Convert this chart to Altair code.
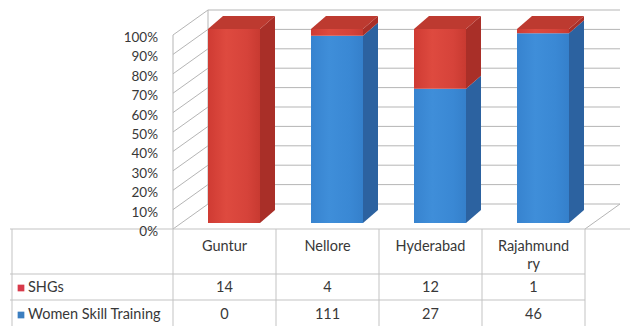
import altair as alt
import pandas as pd

# ---------------- data ----------------
categories = ["Guntur", "Nellore", "Hyderabad", "Rajahmundry"]
series_names = ["SHGs", "Women Skill Training"]
shgs = [14, 4, 12, 1]
women_skill = [0, 111, 27, 46]
y_ticks = [0, 10, 20, 30, 40, 50, 60, 70, 80, 90, 100]

# ---------------- layout constants (pixels) ----------------
W, H = 636, 326
ORIGIN_X, ORIGIN_Y = 173, 229      # front-left floor corner
SLOT = 103                          # px per category column
PPP = 1.94                          # px per percent on the front plane


def ux(px):
    return (px - ORIGIN_X) / SLOT


def vy(py):
    return (ORIGIN_Y - py) / PPP


def dxu(d):
    return d / SLOT


def dyv(d):
    return d / PPP


WX, WY = dxu(35), dyv(25)          # wall depth
BAR_L, BAR_R = dxu(35), dxu(87)    # bar front face inside a slot
LIFT = dyv(6)                      # bar base above front floor edge
DX, DY = dxu(15), dyv(13)          # bar depth

XS = alt.Scale(domain=[ux(0), ux(W)], nice=False, zero=False)
YS = alt.Scale(domain=[vy(H), vy(0)], nice=False, zero=False)

RED_SIDE, RED_TOP = "#a92f28", "#bd3a30"
BLUE_SIDE, BLUE_TOP = "#2c62a0", "#3170b4"
FONT = "Lato"
TXT = "#383838"
TFS = 14.5

# ---------------- structural lines ----------------
grid_rows = []
for p in y_ticks:
    grid_rows.append(dict(x=0, y=p, x2=WX, y2=p + WY))                 # left wall
    grid_rows.append(dict(x=WX, y=p + WY, x2=len(categories) + WX, y2=p + WY))  # back wall
grid_rows.append(dict(x=0, y=0, x2=0, y2=100))
grid_rows.append(dict(x=WX, y=WY, x2=WX, y2=100 + WY))
grid_rows.append(dict(x=len(categories), y=0, x2=len(categories) + WX, y2=WY))
grid_df = pd.DataFrame(grid_rows)

table_rows = []
table_rows.append(dict(x=ux(10), y=0, x2=ux(630), y2=0))
for py in (274, 300):
    table_rows.append(dict(x=ux(10), y=vy(py), x2=len(categories), y2=vy(py)))
for xv in [ux(12)] + list(range(len(categories) + 1)):
    table_rows.append(dict(x=xv, y=0, x2=xv, y2=vy(H)))
table_df = pd.DataFrame(table_rows)


def rules(df, color):
    return alt.Chart(df).mark_rule(color=color, strokeWidth=1).encode(
        x=alt.X("x:Q", scale=XS, axis=None),
        y=alt.Y("y:Q", scale=YS, axis=None),
        x2="x2:Q",
        y2="y2:Q",
    )


# ---------------- bars ----------------
fronts, sides, tops = [], [], []
for i, cat in enumerate(categories):
    total = shgs[i] + women_skill[i]
    w_pct = women_skill[i] / total * 100
    segs = [("Women Skill Training", 0, w_pct), ("SHGs", w_pct, 100)]
    for s, lo, hi in segs:
        if hi - lo <= 0:
            continue
        sid = f"{cat}-{s}"
        fronts.append(dict(series=s, x=i + BAR_L, x2=i + BAR_R, y=lo + LIFT, y2=hi + LIFT))
        sides.append(dict(sid=sid, series=s, x=i + BAR_R, y=lo + LIFT, y2=hi + LIFT))
        sides.append(dict(sid=sid, series=s, x=i + BAR_R + DX, y=lo + LIFT + DY, y2=hi + LIFT + DY))
    top_series = "SHGs" if shgs[i] > 0 else "Women Skill Training"
    tops.append(dict(bid=cat, series=top_series, y=100 + LIFT, x=i + BAR_L, x2=i + BAR_R))
    tops.append(dict(bid=cat, series=top_series, y=100 + LIFT + DY, x=i + BAR_L + DX, x2=i + BAR_R + DX))

front_df = pd.DataFrame(fronts)
side_df = pd.DataFrame(sides)
top_df = pd.DataFrame(tops)

side_layer = alt.Chart(side_df).mark_area(strokeWidth=0).encode(
    x=alt.X("x:Q", scale=XS, axis=None),
    y=alt.Y("y:Q", scale=YS, axis=None),
    y2="y2:Q",
    detail="sid:N",
    color=alt.Color("series:N", scale=alt.Scale(domain=series_names, range=[RED_SIDE, BLUE_SIDE]), legend=None),
)

top_layer = alt.Chart(top_df).mark_area(orient="horizontal", strokeWidth=0).encode(
    y=alt.Y("y:Q", scale=YS, axis=None),
    x=alt.X("x:Q", scale=XS, axis=None),
    x2="x2:Q",
    detail="bid:N",
    color=alt.Color("series:N", scale=alt.Scale(domain=series_names, range=[RED_TOP, BLUE_TOP]), legend=None),
)


def grad(c):
    return alt.Gradient(
        gradient="linear", x1=0, x2=1, y1=0, y2=0,
        stops=[alt.GradientStop(color=c[0], offset=0),
               alt.GradientStop(color=c[1], offset=0.35),
               alt.GradientStop(color=c[2], offset=0.75),
               alt.GradientStop(color=c[3], offset=1)],
    )


red_grad = grad(["#cf3b33", "#de4a3f", "#d6433a", "#c83a31"])
blue_grad = grad(["#3783cf", "#3f8ed9", "#3a88d4", "#3580cb"])


def front_layer(series, g):
    return alt.Chart(front_df).transform_filter(alt.datum.series == series).mark_rect(
        color=g, strokeWidth=0
    ).encode(
        x=alt.X("x:Q", scale=XS, axis=None),
        x2="x2:Q",
        y=alt.Y("y:Q", scale=YS, axis=None),
        y2="y2:Q",
    )


# ---------------- axis labels ----------------
ylab_df = pd.DataFrame({"p": y_ticks, "label": [f"{t}%" for t in y_ticks]})
ylab_df["x"] = ux(158)
ylab_layer = alt.Chart(ylab_df).mark_text(
    align="right", baseline="middle", dy=3, font=FONT, fontSize=13.5, color=TXT
).encode(
    x=alt.X("x:Q", scale=XS, axis=None),
    y=alt.Y("p:Q", scale=YS, axis=None),
    text="label:N",
)


# ---------------- table text ----------------
def wrap(s, n=9):
    return "\n".join(s[k:k + n] for k in range(0, len(s), n))


head_df = pd.DataFrame({
    "x": [i + 0.5 for i in range(len(categories))],
    "y": [vy(240)] * len(categories),
    "label": [wrap(c) for c in categories],
})
head_layer = alt.Chart(head_df).mark_text(
    align="center", baseline="top", lineBreak="\n", lineHeight=18,
    font=FONT, fontSize=TFS, color=TXT
).encode(
    x=alt.X("x:Q", scale=XS, axis=None),
    y=alt.Y("y:Q", scale=YS, axis=None),
    text="label:N",
)

row_y = {"SHGs": vy(288), "Women Skill Training": vy(315)}
val_rows = []
for i, cat in enumerate(categories):
    val_rows.append(dict(x=i + 0.5, y=row_y["SHGs"], label=str(shgs[i])))
    val_rows.append(dict(x=i + 0.5, y=row_y["Women Skill Training"], label=str(women_skill[i])))
val_df = pd.DataFrame(val_rows)
val_layer = alt.Chart(val_df).mark_text(
    align="center", baseline="middle", font=FONT, fontSize=TFS, color=TXT
).encode(
    x=alt.X("x:Q", scale=XS, axis=None),
    y=alt.Y("y:Q", scale=YS, axis=None),
    text="label:N",
)

rowlab_df = pd.DataFrame({
    "series": series_names,
    "x": [ux(28)] * 2,
    "xs": [ux(21)] * 2,
    "y": [row_y[s] for s in series_names],
})
rowlab_layer = alt.Chart(rowlab_df).mark_text(
    align="left", baseline="middle", font=FONT, fontSize=TFS, color=TXT
).encode(
    x=alt.X("x:Q", scale=XS, axis=None),
    y=alt.Y("y:Q", scale=YS, axis=None),
    text="series:N",
)
key_layer = alt.Chart(rowlab_df).mark_point(shape="square", filled=True, size=45, opacity=1).encode(
    x=alt.X("xs:Q", scale=XS, axis=None),
    y=alt.Y("y:Q", scale=YS, axis=None),
    color=alt.Color("series:N", scale=alt.Scale(domain=series_names, range=["#d8394a", "#3b7ec0"]), legend=None),
)

chart = alt.layer(
    rules(grid_df, "#b5b5b5"),
    rules(table_df, "#c3c3c3"),
    side_layer,
    top_layer,
    front_layer("Women Skill Training", blue_grad),
    front_layer("SHGs", red_grad),
    ylab_layer,
    head_layer,
    val_layer,
    rowlab_layer,
    key_layer,
).resolve_scale(color="independent").properties(
    width=W, height=H, padding=0, autosize=alt.AutoSizeParams(type="none"),
    background="white",
).configure_view(stroke=None)

chart.save("out.html", embed_options={"renderer": "svg", "actions": False})
